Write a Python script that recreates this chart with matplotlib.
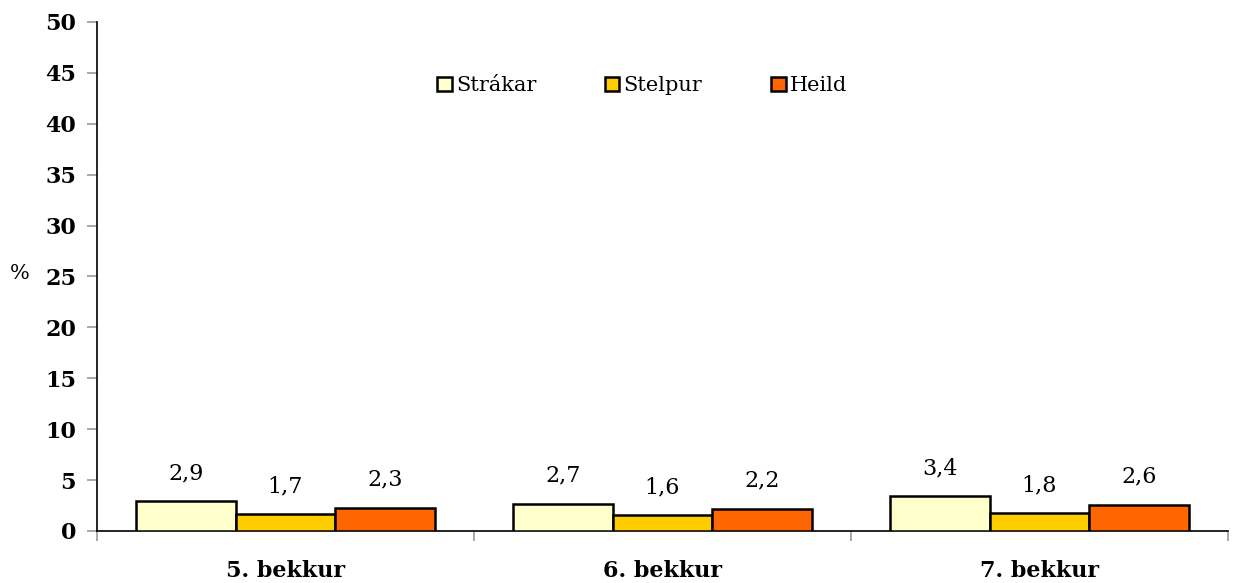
import numpy as np
import matplotlib.pyplot as plt
from matplotlib.patches import Patch

# Data
categories = ['5. bekkur', '6. bekkur', '7. bekkur']
series_names = ['Strákar', 'Stelpur', 'Heild']
strakar = [2.9, 2.7, 3.4]
stelpur = [1.7, 1.6, 1.8]
heild = [2.3, 2.2, 2.6]
y_ticks = [0, 5, 10, 15, 20, 25, 30, 35, 40, 45, 50]

colors = ['#FFFFCC', '#FFCC00', '#FF6600']

plt.rcParams['font.family'] = ['DejaVu Serif']

fig = plt.figure(figsize=(12.35, 5.83), dpi=100)
ax = fig.add_axes([0.0785, 0.0892, 0.9158, 0.8731])

x = np.arange(len(categories))
width = 0.264
for i, vals in enumerate([strakar, stelpur, heild]):
    pos = x + (i - 1) * width
    ax.bar(pos, vals, width, color=colors[i], edgecolor='black', linewidth=1.8,
           label=series_names[i], zorder=3)
    for px, v in zip(pos, vals):
        ax.annotate(f'{v:.1f}'.replace('.', ','), (px, v), xytext=(0, 12),
                    textcoords='offset points', ha='center', va='bottom',
                    fontsize=16)

ax.set_xlim(-0.5, len(categories) - 0.5)
ax.set_ylim(0, 50)
ax.set_yticks(y_ticks)
ax.set_yticklabels([str(t) for t in y_ticks], fontsize=16, fontweight='bold')

# category labels between tick marks at group boundaries
ax.set_xticks(np.arange(len(categories) + 1) - 0.5)
ax.set_xticklabels([])
ax.set_xticks(x, minor=True)
ax.set_xticklabels(categories, minor=True, fontsize=16, fontweight='bold')
ax.tick_params(axis='x', which='minor', length=0, pad=21)
ax.tick_params(axis='x', which='major', length=7, color='#999999', width=1.2)
ax.tick_params(axis='y', length=7, color='#999999', width=1.2, pad=8)

for s in ['top', 'right']:
    ax.spines[s].set_visible(False)
ax.spines['left'].set_linewidth(1.2)
ax.spines['bottom'].set_linewidth(1.2)

ax.set_ylabel('%', rotation=0, fontsize=15, va='center')
ax.yaxis.set_label_coords(-0.068, 0.505)

handles = [Patch(facecolor=c, edgecolor='black', linewidth=1.8) for c in colors]
ax.legend(handles, series_names, loc='center', bbox_to_anchor=(0.482, 0.875),
          ncol=3, frameon=False, fontsize=15, handlelength=0.7, handleheight=0.7,
          handletextpad=0.2, columnspacing=3.3)

fig.savefig('out.png', dpi=100)
